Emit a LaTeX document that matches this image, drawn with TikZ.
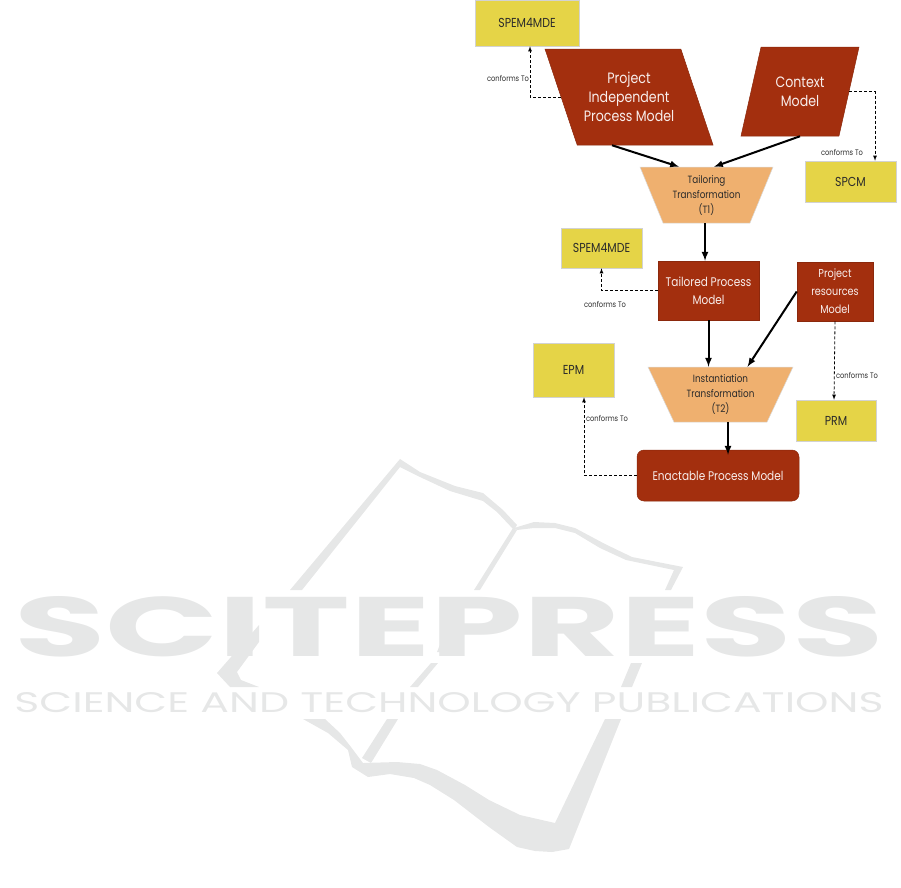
\documentclass[tikz,border=0pt]{standalone}
\usepackage{fontspec}
\setmainfont[FakeStretch=0.84]{Poppins}
\newfontfamily\markfont[BoldFont=Poppins Bold]{Poppins}
\usetikzlibrary{shapes.geometric}

\begin{document}
\begin{tikzpicture}[x=1pt, y=-1pt]
  \definecolor{myred}{HTML}{A32F0E}
  \definecolor{myyellow}{HTML}{E5D447}
  \definecolor{myorange}{HTML}{EFB06F}
  \definecolor{mygray}{HTML}{E6E7E7}
  \definecolor{mytext}{HTML}{2B2B2B}
  \tikzstyle{redbox}=[rectangle, fill=myred, draw=myred!85!black, line width=0.5pt, text=white!92!myred, align=center, inner sep=0pt]
  \tikzstyle{yellowbox}=[rectangle, fill=myyellow, draw=gray!35, line width=0.5pt, text=mytext, inner sep=0pt, font=\fontsize{13}{15}\selectfont]
  \tikzstyle{redslant}=[redbox, trapezium, trapezium stretches body=true, font=\fontsize{15}{19}\selectfont]
  \tikzstyle{funnel}=[trapezium, trapezium stretches body=true, shape border rotate=180, fill=myorange, draw=gray!30, line width=0.5pt, text=mytext, align=center, inner sep=0pt, font=\fontsize{10.5}{15}\selectfont]
  \tikzstyle{flow}=[->, >=latex, line width=2pt]
  \tikzstyle{conforms}=[->, >=latex, dashed, line width=0.8pt, black, dash pattern=on 3pt off 2pt]
  \tikzstyle{tag}=[text=mytext, font=\fontsize{8}{9}\selectfont, inner sep=0pt]
  \tikzstyle{wmark}=[fill=mygray, draw=none]

  \useasboundingbox (0,0) rectangle (901,887);

  % watermark
  \path[wmark] (290,590) -- (400,459) -- (420,472) -- (455,486) -- (483,493) -- (503,510) -- (517,525)
    -- (514,530) -- (497,512) -- (483,501) -- (450,491) -- (420,477) -- (400,467) -- (302,590) -- cycle;
  \path[wmark] (513,528) -- (474,590) -- (480,590) -- (517,530) -- cycle;
  \path[wmark] (514,528) -- (534,522) -- (555,523) -- (575,528) -- (605,544) -- (632,557) -- (683,567)
    -- (671,590) -- (665,590) -- (674,570) -- (626,560) -- (600,548) -- (575,533) -- (555,528) -- (534,528) -- (517,530) -- cycle;
  \path[wmark] (259,625) -- (259,642) -- (237,672) -- (241,680) -- (259,687) -- (230,687) -- (217,673) -- cycle;
  \path[wmark] (441,642) -- (445,642) -- (441,652) -- (437,652) -- cycle;
  \path[wmark] (431,663) -- (438,663) -- (418,687) -- (410,687) -- cycle;
  \path[wmark] (631,663) -- (642,663) -- (632,687) -- (621,687) -- cycle;
  \path[wmark] (387,719) -- (398,719) -- (371,763) -- (362,758) -- cycle;
  \path[wmark] (303,719) -- (325,719) -- (340,733) -- (351,747) -- (363,763) -- (397,762) -- (420,764) -- (437,770)
    -- (465,785) -- (489,800) -- (520,815) -- (555,823) -- (605,719) -- (621,719) -- (569,849) -- (552,852) -- (535,851)
    -- (517,847) -- (489,827) -- (454,800) -- (430,785) -- (414,778) -- (390,774) -- (368,777) -- (352,767) -- (348,750)
    -- (328,733) -- cycle;
  \node (press) at (449,627) {\resizebox{869pt}{60pt}{\color{mygray}\markfont\bfseries SCITEPRESS}};
  \node (science) at (449,703) {\resizebox{869pt}{20pt}{\color{mygray}\markfont SCIENCE AND TECHNOLOGY PUBLICATIONS}};

  % models
  \node[redslant, minimum width=168pt, minimum height=96pt, trapezium left angle=123, trapezium right angle=57] (pipm) at (629,97) {Project\\ Independent\\ Process Model};
  \node[redslant, minimum width=118pt, minimum height=89pt, trapezium left angle=56, trapezium right angle=124] (context) at (800,91.5) {Context\\ Model};
  \node[funnel, minimum width=133pt, minimum height=56pt, trapezium left angle=60, trapezium right angle=60] (t1) at (706.5,195) {Tailoring\\ Transformation\\ (T1)};
  \node[funnel, minimum width=145pt, minimum height=55pt, trapezium left angle=57, trapezium right angle=57] (t2) at (720.5,394.5) {Instantiation\\ Transformation\\ (T2)};
  \node[redbox, minimum width=101pt, minimum height=59pt, font=\fontsize{12.5}{18}\selectfont] (tailored) at (708.5,290.5) {Tailored Process\\ Model};
  \node[redbox, minimum width=76pt, minimum height=59pt, font=\fontsize{11.5}{18}\selectfont] (resources) at (835,291.5) {Project\\ resources\\ Model};
  \node[redbox, rounded corners=7pt, minimum width=162pt, minimum height=51pt, font=\fontsize{12.5}{15}\selectfont] (enactable) at (718,475.5) {Enactable Process Model};

  % metamodels
  \node[yellowbox, minimum width=104pt, minimum height=46pt] (spemtop) at (527,23) {SPEM4MDE};
  \node[yellowbox, minimum width=91pt, minimum height=41pt] (spcm) at (850.5,181.5) {SPCM};
  \node[yellowbox, minimum width=81pt, minimum height=40pt] (spemmid) at (601.5,248) {SPEM4MDE};
  \node[yellowbox, minimum width=81pt, minimum height=54pt] (epm) at (573.5,370) {EPM};
  \node[yellowbox, minimum width=80pt, minimum height=41pt] (prm) at (836,420.5) {PRM};

  % transformations
  \draw[flow] ([xshift=-17pt]pipm.south) -- ([xshift=-27.5pt]t1.north);
  \draw[flow] (context.south) -- ([xshift=7.5pt]t1.north);
  \draw[flow] ([xshift=-1.5pt]t1.south) -- ([xshift=-1.5pt]t1.south |- tailored.north);
  \draw[flow] (tailored.south) -- (tailored.south |- t2.north);
  \draw[flow] (resources.west) -- ([xshift=27pt]t2.north);
  \draw[flow] ([xshift=7.5pt]t2.south) -- ([xshift=7.5pt,yshift=-5pt]t2.south |- enactable.north);

  % conformance
  \draw[conforms] (pipm.west) -| ([xshift=3pt]spemtop.south);
  \draw[conforms] (context.east) -| ([xshift=24.5pt]spcm.north);
  \draw[conforms] (tailored.west) -| (spemmid.south);
  \draw[conforms] (resources.south) -- ([xshift=-2pt]prm.north);
  \draw[conforms] (enactable.west) -| ([xshift=10.5pt]epm.south);

  \node[tag] (tagpipm) at (508,78) {conforms To};
  \node[tag] (tagspcm) at (842,152) {conforms To};
  \node[tag] (tagmid) at (605,304) {conforms To};
  \node[tag] (tagprm) at (857,375) {conforms To};
  \node[tag] (tagepm) at (607,418) {conforms To};
\end{tikzpicture}
\end{document}
